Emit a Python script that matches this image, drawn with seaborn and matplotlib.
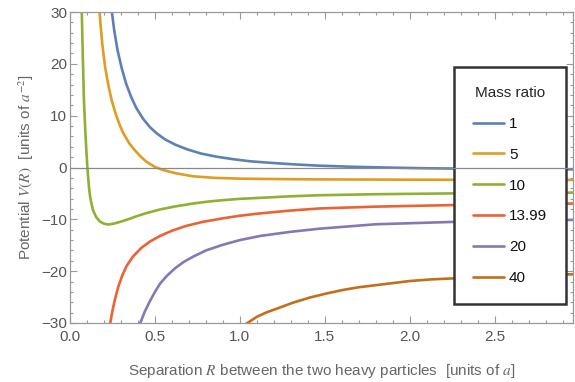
import pandas as pd
import numpy as np
import matplotlib
matplotlib.use('Agg')
import matplotlib.pyplot as plt
import seaborn as sns

# Values
mass_labels = ['1', '5', '10', '13.99', '20', '40']
colors = ['#5E81B5', '#E19C24', '#8FB032', '#EB6235', '#8778B3', '#C56E1A']

r_m1 = [0.245, 0.26, 0.28, 0.304, 0.33, 0.36, 0.39, 0.43, 0.47, 0.51, 0.56, 0.62, 0.69,
        0.77, 0.86, 0.96, 1.06, 1.18, 1.32, 1.47, 1.65, 1.85, 2.1, 2.4, 2.7, 2.97]
v_m1 = [30.4, 26.5, 22.6, 19.2, 16.2, 13.6, 11.5, 9.4, 7.8, 6.6, 5.4, 4.4, 3.5,
        2.7, 2.1, 1.6, 1.2, 0.9, 0.6, 0.35, 0.15, 0.0, -0.15, -0.25, -0.32, -0.36]

r_m5 = [0.173, 0.18, 0.19, 0.206, 0.225, 0.245, 0.27, 0.295, 0.314, 0.35, 0.38, 0.41, 0.45,
        0.5, 0.55, 0.62, 0.725, 0.85, 1.0, 1.12, 1.47, 1.8, 2.25, 2.97]
v_m5 = [30.4, 27.5, 23.8, 19.5, 16.0, 13.0, 10.2, 8.0, 6.6, 4.6, 3.4, 2.3, 1.1,
        0.1, -0.5, -1.1, -1.7, -2.0, -2.15, -2.2, -2.3, -2.33, -2.37, -2.4]

r_m10 = [0.069, 0.075, 0.082, 0.09, 0.096, 0.102, 0.108, 0.114, 0.122, 0.135, 0.153, 0.175,
         0.2, 0.225, 0.255, 0.294, 0.333, 0.392, 0.45, 0.53, 0.62, 0.735, 0.82, 0.9, 1.0, 1.12,
         1.3, 1.47, 1.8, 2.25, 2.6, 2.97]
v_m10 = [30.4, 22.0, 13.0, 7.0, 3.5, 0.15, -2.4, -4.6, -6.3, -8.2, -9.5, -10.4,
         -10.85, -11.0, -10.85, -10.5, -10.1, -9.4, -8.8, -8.1, -7.5, -6.9, -6.55, -6.3, -6.05, -5.85,
         -5.55, -5.35, -5.15, -5.0, -4.9, -4.85]

r_m14 = [0.235, 0.25, 0.265, 0.284, 0.308, 0.333, 0.37, 0.42, 0.47, 0.53, 0.6, 0.68, 0.78,
         0.9, 1.0, 1.12, 1.3, 1.47, 1.8, 2.25, 2.6, 2.97]
v_m14 = [-30.3, -27.6, -25.4, -23.0, -20.8, -19.0, -17.2, -15.5, -14.3, -13.2, -12.2, -11.3, -10.5,
         -9.8, -9.3, -8.85, -8.3, -7.9, -7.55, -7.25, -7.1, -6.95]

r_m20 = [0.41, 0.44, 0.47, 0.5, 0.53, 0.57, 0.62, 0.67, 0.725, 0.8, 0.9, 1.0, 1.12, 1.3,
         1.47, 1.8, 2.25, 2.6, 2.97]
v_m20 = [-30.3, -27.8, -25.8, -24.0, -22.4, -20.9, -19.4, -18.2, -17.2, -16.0, -14.9, -14.0,
         -13.2, -12.4, -11.8, -10.95, -10.5, -10.25, -10.1]

r_m40 = [1.03, 1.1, 1.16, 1.22, 1.31, 1.41, 1.51, 1.61, 1.7, 1.8, 1.9, 2.0, 2.12, 2.25,
         2.4, 2.6, 2.8, 2.97]
v_m40 = [-30.3, -28.8, -27.9, -27.2, -26.1, -25.1, -24.3, -23.6, -23.1, -22.7, -22.3, -21.9,
         -21.6, -21.4, -21.15, -20.9, -20.7, -20.6]

x_ticks = [0.0, 0.5, 1.0, 1.5, 2.0, 2.5]
y_ticks = [-30, -20, -10, 0, 10, 20, 30]

series = [(r_m1, v_m1), (r_m5, v_m5), (r_m10, v_m10), (r_m14, v_m14), (r_m20, v_m20), (r_m40, v_m40)]
frames = []
for lab, (r, v) in zip(mass_labels, series):
    frames.append(pd.DataFrame({'R': r, 'V': v, 'mass': lab}))
df = pd.concat(frames, ignore_index=True)

#%%
sns.set_style('ticks')
plt.rcParams['font.family'] = ['Liberation Sans', 'DejaVu Sans']
plt.rcParams['mathtext.fontset'] = 'stix'

grey = '#666666'
fs = 11
fig = plt.figure(figsize=(5.75, 3.82), dpi=100)
ax = fig.add_axes([70 / 575, 59 / 382, 503 / 575, 311 / 382])

sns.lineplot(data=df, x='R', y='V', hue='mass', hue_order=mass_labels, palette=colors,
             sort=False, estimator=None, linewidth=1.9, ax=ax)

# zero line sits above the legend, as in the original
ax.axhline(0, color='#888888', lw=0.9, zorder=6)
ax.set_xlim(0, 2.96)
ax.set_ylim(-30, 30)
ax.set_xticks(x_ticks)
ax.set_xticklabels([f'{t:.1f}' for t in x_ticks])
ax.set_yticks(y_ticks)
ax.set_xticks(np.arange(0, 2.96, 0.1), minor=True)
ax.set_yticks(np.arange(-30, 31, 2), minor=True)
ax.tick_params(which='both', direction='in', top=True, right=True, color='#999999',
               labelcolor='#555555', labelsize=fs, width=0.8)
ax.tick_params(which='major', length=5)
ax.tick_params(which='minor', length=2.5)
ax.tick_params(axis='y', pad=2)
ax.tick_params(axis='x', pad=5)
for s in ax.spines.values():
    s.set_color('#999999')
    s.set_linewidth(0.9)

ax.set_xlabel(r'Separation $R$ between the two heavy particles  [units of $a$]',
              color=grey, fontsize=fs, labelpad=13)
ax.set_ylabel(r'Potential $V(R)$  [units of $a^{-2}$]', color=grey, fontsize=fs, labelpad=4)

handles, _ = ax.get_legend_handles_labels()
leg = ax.legend(handles=handles, labels=mass_labels, title='Mass ratio',
                loc='upper left', bbox_to_anchor=(454 / 575, 1 - 67 / 382),
                bbox_transform=fig.transFigure, fontsize=fs, title_fontsize=fs,
                frameon=True, fancybox=False, framealpha=1, edgecolor='#333333',
                handlelength=2.0, handletextpad=0.35, labelspacing=1.1, borderpad=1.25,
                borderaxespad=0)
leg.get_frame().set_linewidth(1.8)
leg.set_zorder(5)
for t in leg.get_texts():
    t.set_color('#111111')

fig.savefig('out.png', dpi=100)
